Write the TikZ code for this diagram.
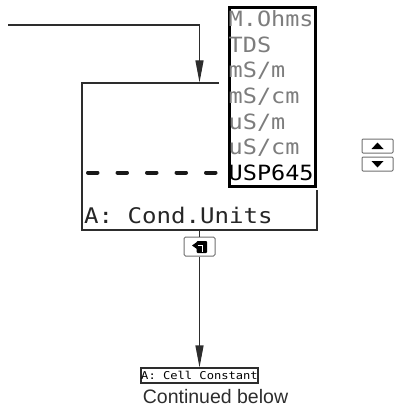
\documentclass[tikz,border=0pt]{standalone}
\usepackage{fontspec}
\usetikzlibrary{arrows.meta,calc}
\newfontfamily\dispfont[FakeStretch=1.12]{DejaVu Sans Mono}
\setmainfont{Liberation Sans}
\definecolor{linec}{RGB}{45,45,45}
\definecolor{dimtext}{RGB}{125,125,125}
\definecolor{btnc}{RGB}{110,110,110}
\begin{document}
\begin{tikzpicture}[x=1pt,y=-1pt,
  thin line/.style={draw=linec,line width=1.1pt},
  arrowline/.style={thin line,-{Triangle[length=22pt,width=8pt]}},
  mainbox/.style={thin line,minimum width=235pt,minimum height=147pt,inner sep=0pt},
  listbox/.style={draw=black,fill=white,line width=2.6pt,minimum width=86.5pt,minimum height=179.5pt,inner sep=0pt},
  listitem/.style={anchor=base west,inner sep=0pt,text=dimtext,font=\dispfont\fontsize{21}{21}\selectfont},
  selitem/.style={listitem,text=black},
  label/.style={anchor=base west,inner sep=0pt,text=black!85,font=\dispfont\fontsize{21.5}{21.5}\selectfont},
  smallbox/.style={thin line,minimum width=117pt,minimum height=15pt,inner sep=0pt,font=\dispfont\fontsize{10.8}{10.8}\selectfont},
  keybox/.style={draw=btnc,line width=1pt,rounded corners=1.5pt,minimum width=31pt,minimum height=19pt,inner sep=0pt},
  btn/.style={draw=btnc,line width=1pt,rounded corners=1pt,minimum width=31pt,minimum height=14pt,inner sep=0pt},
  dashline/.style={draw=black!90,line width=4pt,line cap=round,dash pattern=on 9.5pt off 20pt}
]
\useasboundingbox (0,0) rectangle (396,417);
% main display box
\node[mainbox] (main) at (199.5,156.5) {};
% white gap around the list box
\fill[white] (218.5,70) rectangle (318,190);
% dashed line
\coordinate (d1) at (88,172.5);
\coordinate (d2) at (216,172.5);
\draw[dashline] (d1) -- (d2);
% list box
\node[listbox] (list) at (272.5,97) {};
\node[listitem] (i1) at (228.5,27) {M.Ohms};
\node[listitem] (i2) at (228.5,52.5) {TDS};
\node[listitem] (i3) at (228.5,78) {mS/m};
\node[listitem] (i4) at (228.5,103.5) {mS/cm};
\node[listitem] (i5) at (228.5,129) {uS/m};
\node[listitem] (i6) at (228.5,154.5) {uS/cm};
\node[selitem] (i7) at (228.5,180) {USP645};
% main label
\node[label] (lab) at (84,223.5) {A: Cond.Units};
% incoming line
\coordinate (start) at (8,25);
\draw[arrowline] (start) -| (main.north);
% enter key
\node[keybox] (key) at (199.5,246.5) {};
\fill[black,rounded corners=1pt] ([shift={(-3,-5.5)}]key.center) rectangle ([shift={(7.5,6.5)}]key.center);
\fill[black] ([shift={(-7.5,-1)}]key.center) -- ([shift={(-2.5,-4.5)}]key.center) -- ([shift={(-2.5,2.5)}]key.center) -- cycle;
\draw[white,line width=1.2pt] ([shift={(-2,-1)}]key.center) -- ([shift={(3,-1)}]key.center) -- ([shift={(3,5)}]key.center);
% connectors
\draw[thin line] (main.south) -- (key.north);
\node[smallbox] (cell) at (199.5,375.5) {A: Cell Constant};
\draw[arrowline] (key.south) -- (cell.north);
\node[anchor=base,inner sep=0pt,text=linec,font=\fontsize{19.5}{19.5}\selectfont] (cont) at (215.5,403) {Continued below};
% up/down buttons
\node[btn] (up) at (377.5,146) {};
\node[btn] (down) at (377.5,164) {};
\fill[black] ([shift={(-6,3)}]up.center) -- ([shift={(6,3)}]up.center) -- ([shift={(0,-3.5)}]up.center) -- cycle;
\fill[black] ([shift={(-6,-3)}]down.center) -- ([shift={(6,-3)}]down.center) -- ([shift={(0,3.5)}]down.center) -- cycle;
\end{tikzpicture}
\end{document}
